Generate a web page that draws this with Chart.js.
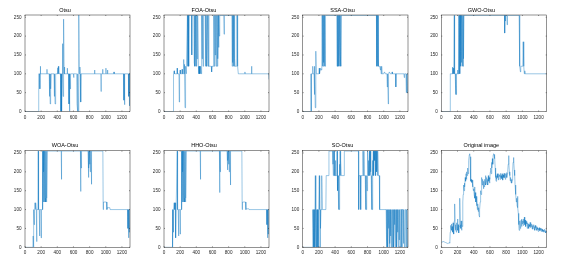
<!DOCTYPE html>
<html>
<head>
<meta charset="utf-8">
<script src="https://cdn.jsdelivr.net/npm/chart.js@4/dist/chart.umd.min.js"></script>
<style>
  body { margin: 0; background: #fff; width: 576px; height: 263px; overflow: hidden; position: relative; }
  canvas { position: absolute; }
</style>
</head>
<body>
<canvas id="c0" width="136" height="128"></canvas>
<canvas id="c1" width="136" height="128"></canvas>
<canvas id="c2" width="136" height="128"></canvas>
<canvas id="c3" width="136" height="128"></canvas>
<canvas id="c4" width="136" height="128"></canvas>
<canvas id="c5" width="136" height="128"></canvas>
<canvas id="c6" width="136" height="128"></canvas>
<canvas id="c7" width="136" height="128"></canvas>
<script>
// valeurs : x = position, y = seuil (0..255)
const titles = ['Otsu', 'FOA-Otsu', 'SSA-Otsu', 'GWO-Otsu', 'WOA-Otsu', 'HHO-Otsu', 'SO-Otsu', 'Original image'];
const xTicks = [0, 200, 400, 600, 800, 1000, 1200];
const yTicks = [0, 50, 100, 150, 200, 250];

const otsuX = [0,168,170,180,184,187,190,193,270,272,274,300,303,306,312,315,320,323,360,363,366,372,375,380,383,400,404,408,414,418,440,444,447,450,453,456,460,464,468,472,476,480,484,488,492,520,523,526,540,544,547,551,555,560,564,600,603,606,640,644,647,652,656,660,664,668,672,680,684,690,694,860,862,864,940,942,944,960,962,964,1000,1002,1004,1020,1022,1024,1100,1102,1104,1220,1224,1228,1232,1236,1280,1284,1288,1292,1296,1300];
const otsuY = [0,0,100,100,60,100,120,100,100,112,100,100,40,100,20,100,60,100,100,40,100,20,100,70,100,100,116,100,120,100,100,0,100,60,100,0,100,180,100,40,100,245,100,118,100,100,115,100,100,20,100,0,100,60,100,100,90,100,100,20,100,0,100,0,100,256,100,118,100,25,100,100,110,100,100,53,100,100,112,100,100,115,100,100,110,100,100,105,100,100,30,100,18,100,100,40,100,15,100,100];

const foaX = [0,112,115,118,121,125,130,160,163,166,185,189,193,200,204,220,224,228,240,244,248,252,256,260,264,270,276,284,290,296,300,306,310,340,344,348,370,374,378,382,386,392,396,402,406,410,414,420,426,432,436,440,446,450,456,462,466,472,478,484,490,510,514,518,524,528,532,540,548,552,556,565,575,585,590,595,610,616,622,628,634,640,644,648,652,656,660,664,668,672,676,680,684,690,740,744,748,840,844,848,852,856,860,864,868,872,876,880,900,904,908,915,920,930,1000,1002,1004,1080,1084,1088,1296,1300];
const foaY = [0,0,100,40,100,108,100,100,115,100,100,25,100,110,100,100,112,100,100,138,100,125,100,10,100,120,100,100,255,120,255,120,255,255,150,255,255,130,255,120,255,120,255,120,255,140,255,255,120,100,120,100,120,100,120,100,255,140,255,120,255,255,120,255,120,255,120,255,120,255,120,120,120,120,105,120,120,255,120,255,150,255,120,255,130,255,120,255,140,255,170,255,200,255,255,205,255,255,120,255,130,255,120,200,120,255,140,120,120,255,120,120,100,100,100,105,100,100,120,100,100,85];

const ssaX = [0,100,103,106,110,120,124,128,140,143,146,150,155,160,164,168,200,204,208,215,222,228,236,240,244,248,252,256,260,264,268,272,276,282,420,424,428,432,436,440,444,448,452,456,460,464,468,472,476,480,910,914,918,922,926,930,934,938,950,960,964,968,975,980,1000,1010,1020,1040,1044,1048,1056,1060,1070,1080,1100,1104,1108,1148,1150,1152,1250,1254,1258,1275,1279,1283,1290,1295,1300];
const ssaY = [0,0,100,0,100,100,120,100,100,120,45,100,10,100,160,100,100,115,100,110,115,110,120,255,120,255,120,255,130,255,120,255,120,255,255,120,255,120,255,130,255,120,255,120,255,150,255,120,255,255,255,120,255,120,255,140,255,120,120,110,120,100,120,100,100,105,100,100,65,100,20,100,105,100,100,105,100,100,65,100,100,90,100,100,50,100,50,100,100];

const gwoX = [0,108,111,135,138,142,146,150,156,160,164,172,176,180,184,188,196,200,205,212,215,218,222,226,230,236,240,244,248,252,256,260,264,268,272,276,280,780,782,786,790,794,808,812,816,960,964,970,976,980,1005,1010,1014,1020,1024,1030,1034,1300];
const gwoY = [0,0,100,100,118,100,115,100,100,255,100,100,45,100,45,100,100,110,100,100,255,100,255,120,100,255,120,255,130,255,230,120,255,120,255,140,255,255,208,255,240,255,255,230,255,255,120,120,105,120,120,185,120,120,100,108,100,100];

const woaX = [0,98,101,104,107,110,113,116,120,124,128,132,136,140,144,148,160,164,168,176,180,184,196,200,204,212,216,220,224,228,232,236,240,244,248,252,256,260,264,268,272,276,280,448,451,454,686,689,692,696,700,780,784,788,792,796,800,804,808,812,818,822,826,964,968,972,1010,1014,1020,1050,1054,1270,1274,1278,1282,1286,1290,1294,1300];
const woaY = [0,0,30,100,0,100,60,100,100,118,110,100,118,100,15,100,100,255,100,100,30,100,100,25,100,100,255,100,255,120,200,255,120,255,140,255,120,130,255,120,130,255,255,255,180,255,255,148,255,210,255,255,185,255,210,255,220,255,200,255,255,167,255,255,100,120,120,100,105,105,100,100,50,100,25,100,40,100,100];

const hhoX = [0,100,103,106,109,112,116,120,126,130,134,138,142,146,150,160,164,168,176,180,184,196,200,204,212,216,220,224,228,232,236,240,244,248,252,256,260,264,268,272,276,280,448,451,454,686,689,692,696,700,780,784,788,792,796,800,804,808,812,818,822,826,964,968,972,1010,1014,1020,1050,1054,1270,1274,1278,1282,1286,1290,1294,1300];
const hhoY = [0,0,60,100,0,100,40,100,118,110,100,118,100,25,100,100,255,100,100,30,100,100,35,100,100,255,100,255,120,200,255,120,255,140,255,120,130,255,120,130,255,255,255,180,255,255,145,255,200,255,255,205,255,230,255,220,255,200,255,255,165,255,255,100,120,120,100,102,102,100,100,60,100,25,100,35,100,100];

const soX = [0,118,121,124,127,130,133,136,140,144,150,156,160,164,168,172,176,180,186,190,195,200,205,210,214,218,222,226,232,238,242,250,286,290,320,324,370,374,378,382,388,392,400,404,408,420,424,428,432,436,442,446,450,454,458,462,466,470,476,510,514,688,690,693,696,712,716,720,740,744,748,756,760,772,776,780,784,790,794,798,804,808,812,816,824,828,836,840,846,850,854,858,862,866,872,876,882,888,894,900,906,912,918,924,928,934,946,950,1030,1034,1038,1042,1046,1050,1054,1060,1064,1068,1072,1076,1080,1084,1088,1094,1098,1102,1106,1110,1116,1120,1124,1130,1134,1138,1142,1148,1152,1156,1162,1166,1170,1176,1180,1186,1190,1196,1202,1208,1220,1224,1228,1240,1244,1248,1256,1262,1270,1276,1282,1290,1296,1300];
const soY = [0,0,100,0,100,50,100,0,100,100,0,190,0,100,0,100,0,100,0,100,0,100,190,100,0,100,50,100,100,190,100,100,100,190,190,255,255,220,190,255,255,190,190,230,190,190,255,190,150,190,100,190,100,220,190,255,190,230,190,190,255,255,190,100,190,190,100,190,190,255,190,255,190,190,100,190,100,190,150,190,255,190,230,190,255,190,255,200,190,100,190,100,230,190,255,190,255,230,255,190,255,200,255,190,255,190,190,100,100,0,100,20,100,0,100,50,100,0,100,10,100,30,100,0,100,50,0,100,20,100,0,100,60,100,0,100,30,100,0,100,40,100,0,100,20,100,0,100,100,0,100,100,10,100,0,100,100,0,100,0,100,100];

const origX = [0,10,20,30,40,50,60,70,80,90,100,105,110,115,120,125,130,135,140,145,150,155,160,165,170,175,180,185,190,195,200,205,210,215,220,225,230,235,240,245,250,255,260,265,270,275,280,285,290,295,300,305,310,315,320,325,330,335,340,345,350,355,360,365,370,375,380,385,390,395,400,405,410,415,420,425,430,435,440,445,450,455,460,465,470,475,480,485,490,495,500,505,510,515,520,525,530,535,540,545,550,555,560,565,570,575,580,585,590,595,600,605,610,615,620,625,630,635,640,645,650,655,660,665,670,675,680,685,690,695,700,705,710,715,720,725,730,735,740,745,750,755,760,765,770,775,780,785,790,795,800,805,810,815,820,825,830,835,840,845,850,855,860,865,870,875,880,885,890,895,900,905,910,915,920,925,930,935,940,945,950,955,960,965,970,975,980,985,990,995,1000,1005,1010,1015,1020,1025,1030,1035,1040,1045,1050,1055,1060,1065,1070,1075,1080,1085,1090,1095,1100,1105,1110,1115,1120,1125,1130,1135,1140,1145,1150,1155,1160,1165,1170,1175,1180,1185,1190,1195,1200,1205,1210,1215,1220,1225,1230,1235,1240,1245,1250,1255,1260,1265,1270,1275,1280,1285,1290,1295,1300];
const origY = [13,14,15,15,14,13,12,12,10,11,12,11,40,58,50,62,45,55,40,65,50,35,70,115,60,45,55,40,65,50,75,45,60,38,55,70,130,60,50,70,45,60,55,120,140,165,150,170,160,185,175,195,180,200,190,210,195,220,230,245,248,240,200,175,180,172,178,160,170,150,155,140,160,130,145,120,135,110,125,100,115,95,105,85,80,100,120,150,140,175,185,165,180,170,155,175,160,180,170,190,165,175,185,170,180,165,190,175,185,170,180,200,210,195,225,210,235,220,245,248,246,235,240,210,185,175,190,180,195,185,190,178,195,188,192,180,196,185,190,182,195,186,178,192,185,196,184,190,180,195,188,198,185,195,205,220,243,225,200,190,176,185,172,180,170,178,200,225,238,230,205,190,165,150,140,120,130,110,135,105,90,60,45,55,70,50,65,72,55,75,62,70,58,75,65,80,60,72,55,68,62,70,50,65,58,62,50,60,55,66,52,60,55,62,50,58,48,55,60,50,55,45,58,52,48,55,45,52,48,42,50,46,52,44,50,47,42,50,45,48,42,46,40,45,42,48,40,44,38,42,40];

const seriesX = [otsuX, foaX, ssaX, gwoX, woaX, hhoX, soX, origX];
const seriesY = [otsuY, foaY, ssaY, gwoY, woaY, hhoY, soY, origY];

// placement des canvas (px) : [left, largeur axe y, largeur zone tracé] / [top, haut titre, haut axe x]
const cols = [[0, 25, 105], [139, 25, 105], [277, 25.7, 105.3], [416, 25.3, 105.4]];
const rows = [[0, 15, 16.5], [135, 15.7, 15.7]];

const fontFam = '"Liberation Sans", Arial, Helvetica, sans-serif';

// cadre + petites graduations vers l'intérieur (style matlab)
const boxPlugin = {
    id: 'box',
    afterDraw(chart) {
        const { ctx, chartArea: a, scales } = chart;
        ctx.save();
        ctx.strokeStyle = '#262626';
        ctx.lineWidth = 0.5;
        ctx.strokeRect(a.left, a.top, a.right - a.left, a.bottom - a.top);
        ctx.beginPath();
        xTicks.forEach(v => {
            const px = scales.x.getPixelForValue(v);
            ctx.moveTo(px, a.bottom); ctx.lineTo(px, a.bottom - 1);
            ctx.moveTo(px, a.top); ctx.lineTo(px, a.top + 1);
        });
        yTicks.forEach(v => {
            const py = scales.y.getPixelForValue(v);
            ctx.moveTo(a.left, py); ctx.lineTo(a.left + 1, py);
            ctx.moveTo(a.right, py); ctx.lineTo(a.right - 1, py);
        });
        ctx.stroke();
        ctx.restore();
    }
};

titles.forEach((t, i) => {
    const col = cols[i % 4], row = rows[Math.floor(i / 4)];
    const cv = document.getElementById('c' + i);
    cv.style.left = col[0] + 'px';
    cv.style.top = row[0] + 'px';
    const rightPad = 136 - col[1] - col[2];
    const pts = seriesX[i].map((x, k) => ({ x: x, y: seriesY[i][k] }));

    new Chart(cv.getContext('2d'), {
        type: 'line',
        data: {
            datasets: [{
                data: pts,
                borderColor: '#0072BD',
                borderWidth: 0.4,
                pointRadius: 0,
                tension: 0,
                fill: false,
            }]
        },
        plugins: [boxPlugin],
        options: {
            responsive: false,
            animation: false,
            events: [],
            layout: { padding: { left: 0, right: rightPad, top: 0, bottom: 0 } },
            plugins: {
                legend: { display: false },
                tooltip: { enabled: false },
                title: {
                    display: true,
                    text: t,
                    color: '#000',
                    font: { family: fontFam, size: 5.5, weight: 'normal', lineHeight: 1.2 },
                    padding: { top: row[1] - 6.6 - 1.5, bottom: 1.5 },
                }
            },
            scales: {
                x: {
                    type: 'linear',
                    min: 0, max: 1300,
                    grid: { display: false, drawTicks: false },
                    border: { display: false },
                    afterBuildTicks: s => { s.ticks = xTicks.map(v => ({ value: v })); },
                    afterFit: s => { s.height = row[2]; },
                    ticks: {
                        maxRotation: 0, autoSkip: false, padding: 3,
                        color: '#262626',
                        font: { family: fontFam, size: 4.6 },
                        callback: v => String(v),
                    }
                },
                y: {
                    type: 'linear',
                    min: 0, max: 256,
                    grid: { display: false, drawTicks: false },
                    border: { display: false },
                    afterBuildTicks: s => { s.ticks = yTicks.map(v => ({ value: v })); },
                    afterFit: s => { s.width = col[1]; },
                    ticks: {
                        autoSkip: false, padding: 3.5,
                        color: '#262626',
                        font: { family: fontFam, size: 4.6 },
                        callback: v => String(v),
                    }
                }
            }
        }
    });
});
</script>
</body>
</html>
